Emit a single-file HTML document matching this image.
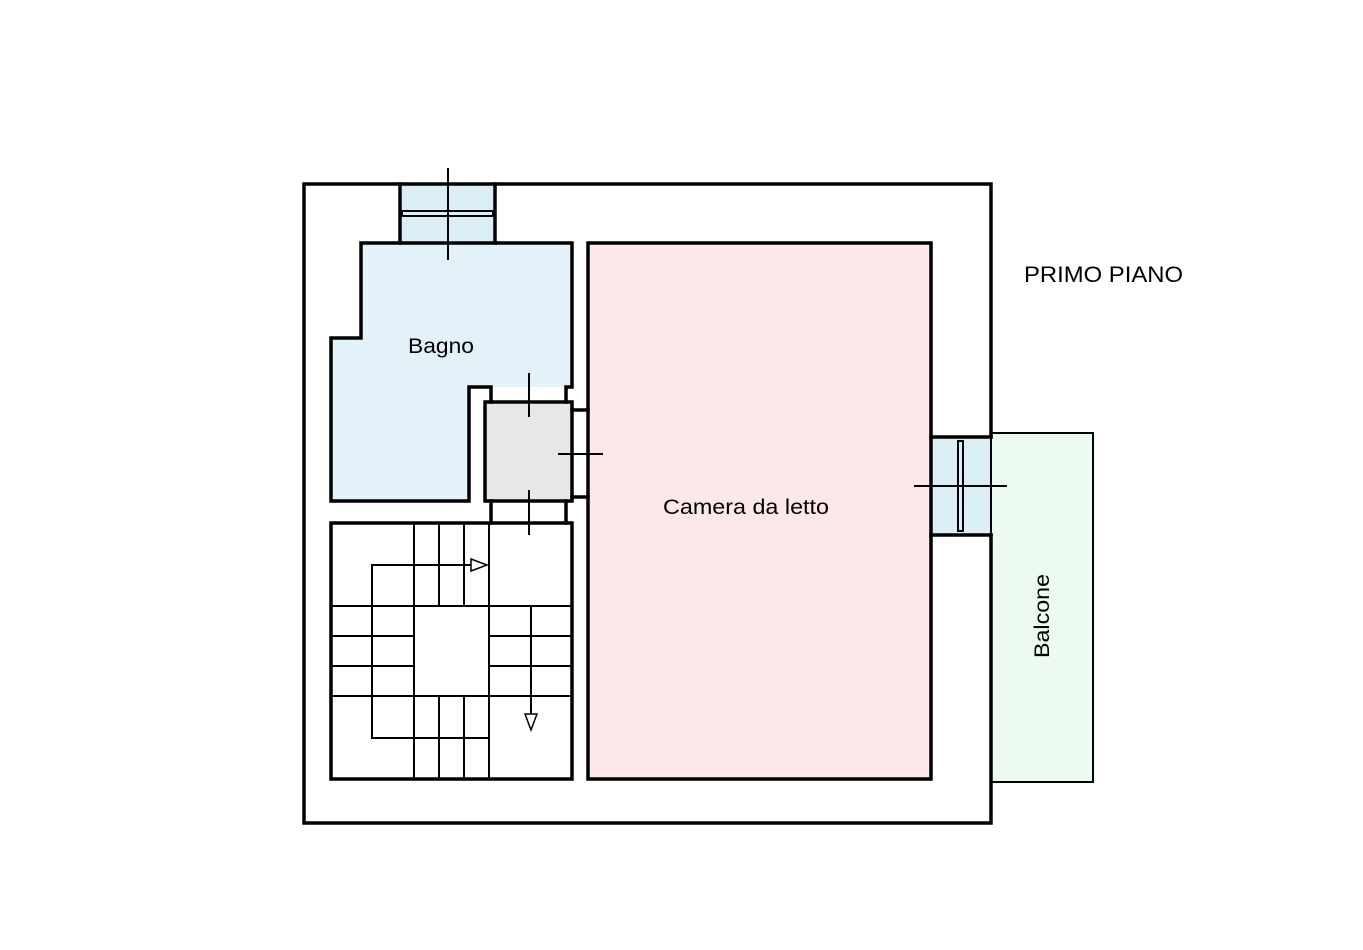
<!DOCTYPE html>
<html><head><meta charset="utf-8"><style>
html,body{margin:0;padding:0;background:#fff}
svg{display:block}
text{font-family:"Liberation Sans",Arial,sans-serif;fill:#000}
</style></head><body>
<svg width="1363" height="950" viewBox="0 0 1363 950" xmlns="http://www.w3.org/2000/svg">
<rect width="1363" height="950" fill="#fff"/>
<!-- fills -->
<rect x="400" y="184" width="95" height="59" fill="#dbeef6"/>
<polygon points="361,243 572,243 572,387 469,387 469,501 331,501 331,338 361,338" fill="#e3f2f9"/>
<rect x="485" y="402" width="87" height="99" fill="#e7e7e7"/>
<rect x="588" y="243" width="343" height="536" fill="#fce8ea"/>
<rect x="931" y="437" width="60" height="98" fill="#dbeef6"/>
<rect x="991" y="433" width="102" height="349" fill="#ecfaef" stroke="#000" stroke-width="2"/>

<g fill="none" stroke="#000" stroke-width="3.5" stroke-linecap="square">
<!-- outer -->
<polyline points="991,437 991,184 304,184 304,823 991,823 991,535"/>
<line x1="400" y1="184" x2="400" y2="243"/>
<line x1="495" y1="184" x2="495" y2="243"/>
<!-- bagno -->
<polyline points="491,402 491,387 469,387 469,501 331,501 331,338 361,338 361,243 572,243 572,387 566,387 566,402"/>
<!-- gray -->
<rect x="485" y="402" width="87" height="99"/>
<polyline points="572,410 588,410"/>
<polyline points="491,501 491,523"/>
<polyline points="566,523 566,501"/>
<polyline points="572,497 588,497"/>
<!-- camera -->
<rect x="588" y="243" width="343" height="536"/>
<line x1="931" y1="437" x2="991" y2="437"/>
<line x1="931" y1="535" x2="991" y2="535"/>
<!-- stair outer -->
<rect x="331" y="523" width="241" height="256"/>
</g>

<g fill="none" stroke="#000" stroke-width="2">
<!-- top window -->
<rect x="402" y="211" width="91" height="5"/>
<line x1="448" y1="168" x2="448" y2="260"/>
<!-- door above gray -->
<line x1="529" y1="373" x2="529" y2="417"/>
<!-- right door -->
<line x1="558" y1="454" x2="603" y2="454"/>
<!-- bottom door -->
<line x1="529" y1="490" x2="529" y2="535"/>
<!-- balcony window -->
<rect x="958" y="441" width="5" height="90"/>
<line x1="914" y1="486" x2="1007" y2="486"/>
<!-- stairs -->
<line x1="414" y1="523" x2="414" y2="779"/>
<line x1="489" y1="523" x2="489" y2="779"/>
<line x1="439" y1="523" x2="439" y2="606"/>
<line x1="464" y1="523" x2="464" y2="606"/>
<line x1="439" y1="696" x2="439" y2="779"/>
<line x1="464" y1="696" x2="464" y2="779"/>
<line x1="331" y1="606" x2="572" y2="606"/>
<line x1="331" y1="696" x2="572" y2="696"/>
<line x1="331" y1="636" x2="414" y2="636"/>
<line x1="331" y1="666" x2="414" y2="666"/>
<line x1="489" y1="636" x2="572" y2="636"/>
<line x1="489" y1="666" x2="572" y2="666"/>
<polyline points="471,565 372,565 372,738 489,738"/>
<line x1="531" y1="606" x2="531" y2="714"/>
</g>
<polygon points="471,559 487,565 471,571" fill="#fff" stroke="#000" stroke-width="1.5"/>
<polygon points="525,714 537,714 531,730" fill="#fff" stroke="#000" stroke-width="1.5"/>

<text x="1024" y="282" font-size="22" textLength="159" lengthAdjust="spacingAndGlyphs">PRIMO PIANO</text>
<text x="408" y="353" font-size="21" textLength="66" lengthAdjust="spacingAndGlyphs">Bagno</text>
<text x="663" y="514" font-size="21" textLength="166" lengthAdjust="spacingAndGlyphs">Camera da letto</text>
<text transform="translate(1049,658) rotate(-90)" font-size="21" textLength="84" lengthAdjust="spacingAndGlyphs">Balcone</text>
</svg>
</body></html>
